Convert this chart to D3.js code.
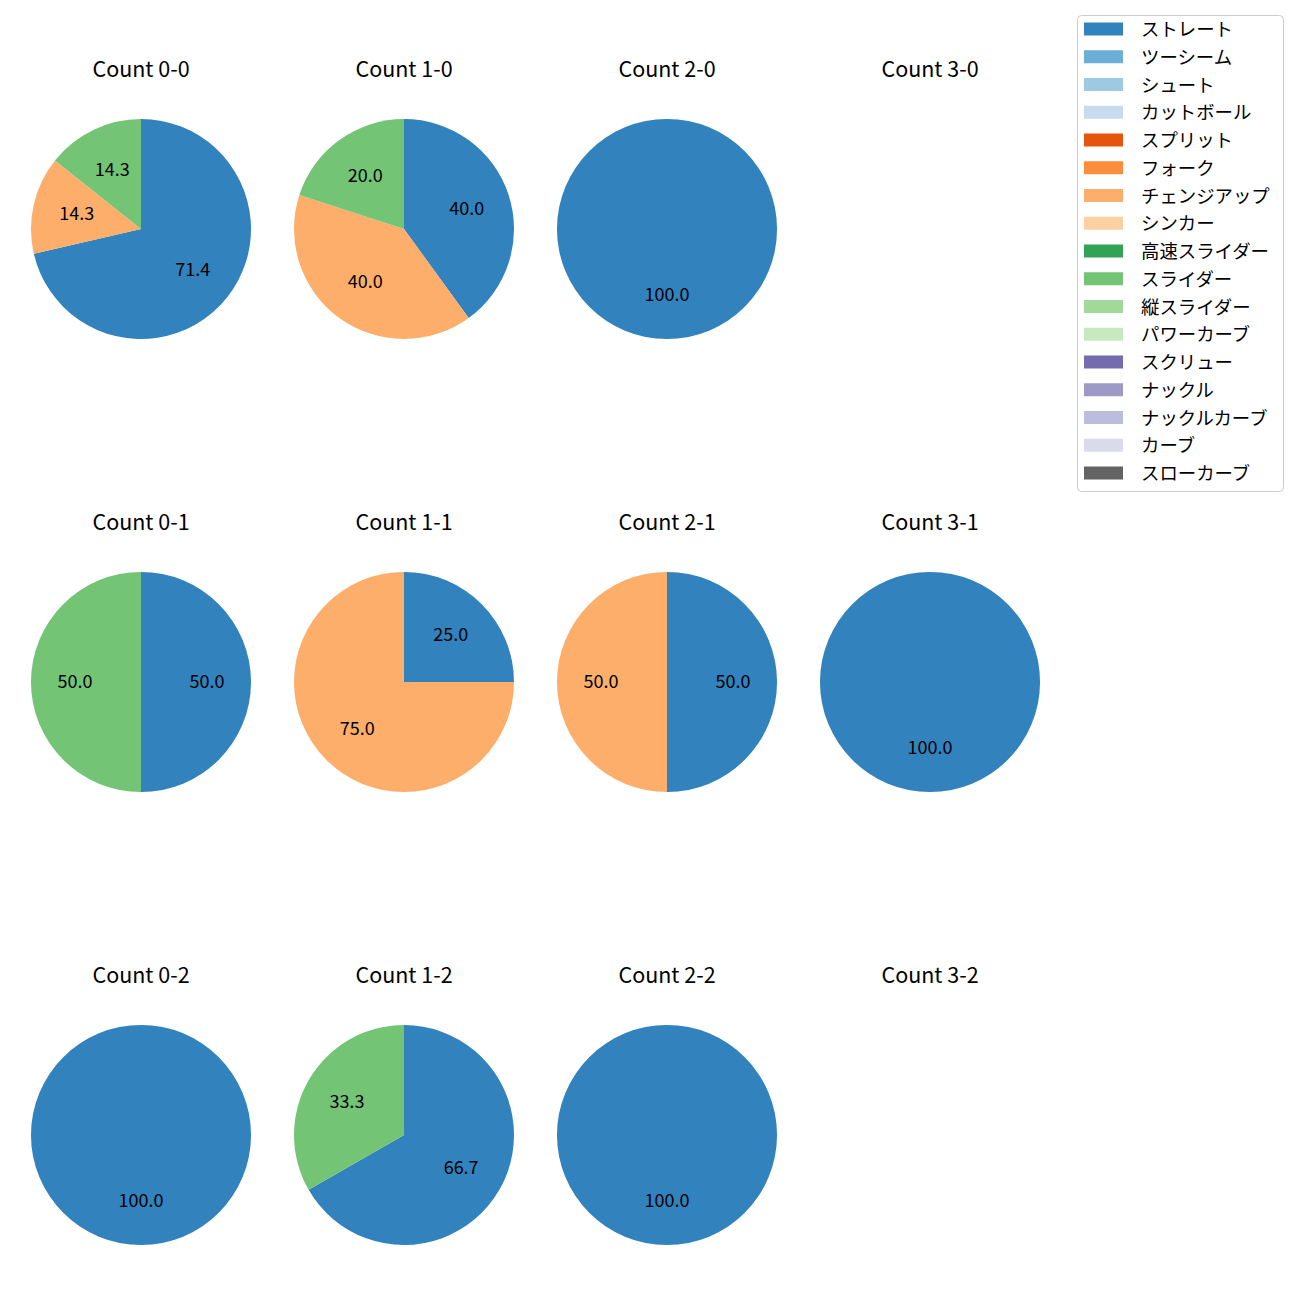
<!DOCTYPE html>
<html><head><meta charset="utf-8">
<script src="https://cdn.jsdelivr.net/npm/d3@7"></script>
<style>body{margin:0;background:#fff;} text{font-family:"Noto Sans CJK JP","Noto Sans",sans-serif;}</style>
</head><body>
<svg id="chart" width="1300" height="1300"></svg>
<script>
const pitchTypes = ["ストレート","ツーシーム","シュート","カットボール","スプリット","フォーク","チェンジアップ","シンカー","高速スライダー","スライダー","縦スライダー","パワーカーブ","スクリュー","ナックル","ナックルカーブ","カーブ","スローカーブ"];
const colors = ["#3182bd","#6baed6","#9ecae1","#c6dbef","#e6550d","#fd8d3c","#fdae6b","#fdd0a2","#31a354","#74c476","#a1d99b","#c7e9c0","#756bb1","#9e9ac8","#bcbddc","#dadaeb","#636363"];
const countTitles = ["Count 0-0","Count 1-0","Count 2-0","Count 3-0","Count 0-1","Count 1-1","Count 2-1","Count 3-1","Count 0-2","Count 1-2","Count 2-2","Count 3-2"];
// shares per panel, listed as [pitch type, percent]
const panel00 = [["ストレート",71.4],["チェンジアップ",14.3],["スライダー",14.3]];
const panel10 = [["ストレート",40.0],["チェンジアップ",40.0],["スライダー",20.0]];
const panel20 = [["ストレート",100.0]];
const panel30 = [];
const panel01 = [["ストレート",50.0],["スライダー",50.0]];
const panel11 = [["ストレート",25.0],["チェンジアップ",75.0]];
const panel21 = [["ストレート",50.0],["チェンジアップ",50.0]];
const panel31 = [["ストレート",100.0]];
const panel02 = [["ストレート",100.0]];
const panel12 = [["ストレート",66.7],["スライダー",33.3]];
const panel22 = [["ストレート",100.0]];
const panel32 = [];
const panels = [panel00,panel10,panel20,panel30,panel01,panel11,panel21,panel31,panel02,panel12,panel22,panel32];

const svg = d3.select("#chart");
const color = d3.scaleOrdinal().domain(pitchTypes).range(colors);
const colX = d3.scalePoint().domain([0,1,2,3]).range([141,930]);
const rowY = d3.scalePoint().domain([0,1,2]).range([229,1135]);
const R = 110;
const pie = d3.pie().sort(null).value(d => d[1]).startAngle(0).endAngle(2*Math.PI);
const arc = d3.arc().innerRadius(0).outerRadius(R);
const labelArc = d3.arc().innerRadius(R*0.6).outerRadius(R*0.6);

panels.forEach((data, i) => {
  const cx = colX(i % 4), cy = rowY(Math.floor(i / 4));
  const g = svg.append("g").attr("transform", `translate(${cx},${cy})`);
  g.append("text").attr("x", 0).attr("y", -162).attr("text-anchor","middle")
    .attr("dominant-baseline","central").attr("font-size","21.5px").attr("fill","#000").text(countTitles[i]);
  const arcs = pie(data.filter(d => d[1] > 0));
  g.selectAll("path").data(arcs).enter().append("path")
    .attr("d", arc).attr("fill", d => color(d.data[0]));
  g.selectAll("text.lbl").data(arcs).enter().append("text").attr("class","lbl")
    .attr("transform", d => `translate(${labelArc.centroid(d)})`)
    .attr("y", -2)
    .attr("text-anchor","middle").attr("dominant-baseline","central")
    .attr("font-size","18px").attr("fill","#000")
    .text(d => d.data[1].toFixed(1));
});

// legend
const lg = svg.append("g").attr("transform","translate(1077,15)");
lg.append("rect").attr("x",0.5).attr("y",0.5).attr("width",206).attr("height",476).attr("rx",4)
  .attr("fill","#fff").attr("stroke","#cccccc").attr("stroke-width",1);
const ly = d3.scalePoint().domain(pitchTypes).range([14, 458]);
pitchTypes.forEach(p => {
  lg.append("rect").attr("x",7).attr("y",ly(p)-6.5).attr("width",39).attr("height",13).attr("fill",color(p));
  lg.append("text").attr("x",64).attr("y",ly(p)-1).attr("dominant-baseline","central")
    .attr("font-size","18.4px").attr("fill","#000").text(p);
});
</script>
</body></html>
